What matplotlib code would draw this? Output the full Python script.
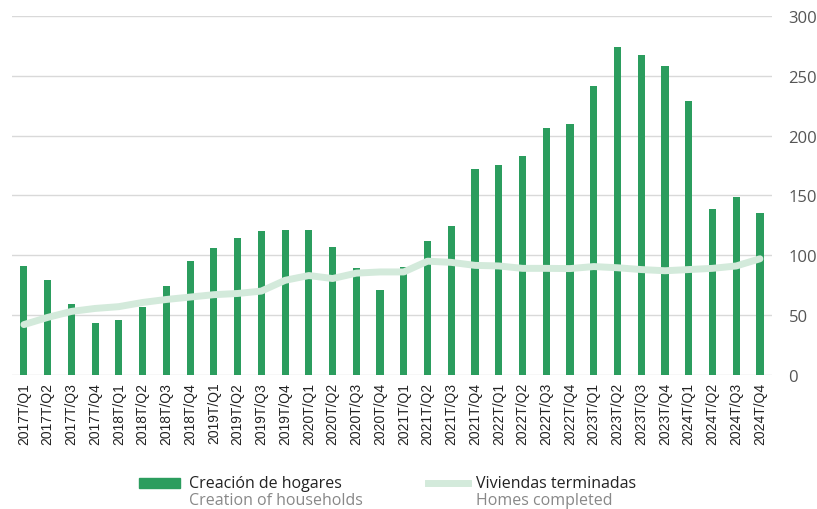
import matplotlib.pyplot as plt
import numpy as np
from matplotlib.patches import Rectangle
from matplotlib.lines import Line2D

years = [2017, 2018, 2019, 2020, 2021, 2022, 2023, 2024]
quarters = [f"{y}T/Q{q}" for y in years for q in range(1, 5)]

hogares = [91, 79, 59, 43, 46, 57, 74, 95,
           106, 114, 120, 121, 121, 107, 89, 71,
           90, 112, 124, 172, 175, 183, 206, 210,
           241, 274, 267, 258, 229, 139, 149, 135]

viviendas = [42, 48, 53, 55.5, 57, 60.5, 63, 65,
             67, 68, 70, 79, 83, 80.5, 85, 86,
             86, 95, 94, 91.5, 91, 89, 89, 88.8,
             90.5, 89.5, 88, 87, 88, 89, 91, 97]

bar_color = "#2b9d5e"
line_color = "#d3eadb"
grid_color = "#d9d9d9"

fig = plt.figure(figsize=(8.17, 5.10), dpi=100)
ax = fig.add_axes([0.0147, 0.263, 0.93, 0.704])

x = np.arange(len(quarters))
ax.bar(x, hogares, width=0.3, color=bar_color, zorder=2)
ax.plot(x, viviendas, color=line_color, lw=5, solid_joinstyle="round",
        solid_capstyle="round", zorder=3)

ax.set_xlim(-0.5, len(quarters) - 0.5)
ax.set_ylim(0, 300)
ax.set_yticks(range(0, 301, 50))
ax.yaxis.tick_right()
ax.grid(axis="y", color=grid_color, lw=1, zorder=0)
for s in ax.spines.values():
    s.set_visible(False)
ax.tick_params(axis="y", length=0, pad=12, labelsize=12, labelcolor="#555555")
ax.tick_params(axis="x", length=0, pad=5)
for lab in ax.get_yticklabels():
    lab.set_fontfamily("Open Sans")

ax.set_xticks(x)
ax.set_xticklabels(quarters, rotation=90, fontsize=10, family="Liberation Sans",
                   color="#222222")

# legend drawn by hand (two-tone labels)
fig.add_artist(Rectangle((139 / 817, 1 - 489 / 510), 41 / 817, 10 / 510,
                         transform=fig.transFigure, color=bar_color))
fig.add_artist(Line2D([428 / 817, 468 / 817], [1 - 484 / 510, 1 - 484 / 510],
                      transform=fig.transFigure, color=line_color, lw=5))
fig.text(189 / 817, 1 - 484 / 510, "Creación de hogares", fontsize=11.5,
         family="Open Sans", color="#222222", va="center")
fig.text(189 / 817, 1 - 501 / 510, "Creation of households", fontsize=11.5,
         family="Open Sans", color="#888888", va="center")
fig.text(476 / 817, 1 - 484 / 510, "Viviendas terminadas", fontsize=11.5,
         family="Open Sans", color="#222222", va="center")
fig.text(476 / 817, 1 - 501 / 510, "Homes completed", fontsize=11.5,
         family="Open Sans", color="#888888", va="center")

fig.savefig("out.png", dpi=100)
